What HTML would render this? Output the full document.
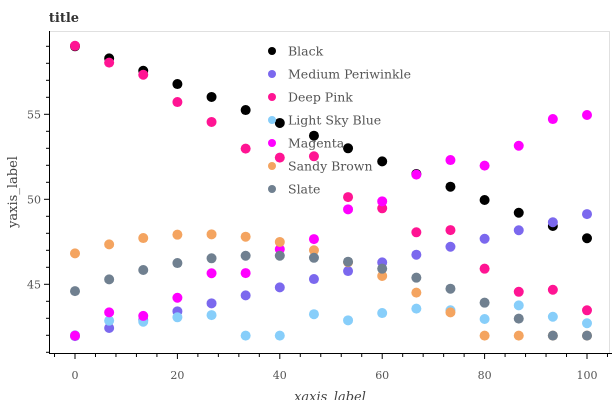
<!DOCTYPE html>
<html><head><meta charset="utf-8"><style>
body{margin:0;background:#fff;width:614px;height:400px;overflow:hidden}
svg text{font-family:"DejaVu Serif","Liberation Serif",serif}
</style></head><body>
<svg id="chart" width="614" height="400" xmlns="http://www.w3.org/2000/svg"></svg>
<script>
const xValues=[0,6.67,13.33,20,26.67,33.33,40,46.67,53.33,60,66.67,73.33,80,86.67,93.33,100];
const seriesNames=["Black","Medium Periwinkle","Deep Pink","Light Sky Blue","Magenta","Sandy Brown","Slate"];
const seriesColors=["#000000","#7B68EE","#FF1493","#87CEFA","#FF00FF","#F4A460","#708090"];
const blackVals=[59.0,58.29,57.56,56.78,56.02,55.25,54.49,53.74,53.0,52.23,51.49,50.74,49.96,49.21,48.43,47.71];
const periwinkleVals=[41.95,42.43,42.9,43.41,43.88,44.35,44.82,45.31,45.78,46.29,46.74,47.21,47.68,48.18,48.65,49.13];
const deepPinkVals=[59.03,58.04,57.33,55.72,54.55,52.98,52.45,52.53,50.13,49.47,48.06,48.19,45.92,44.56,44.68,43.47];
const skyBlueVals=[42.0,42.86,42.8,43.06,43.19,41.98,41.98,43.24,42.88,43.31,43.57,43.47,42.96,43.76,43.09,42.71];
const magentaVals=[41.98,43.35,43.14,44.21,45.65,45.66,47.06,47.66,49.41,49.88,51.45,52.31,51.98,53.15,54.72,54.96];
const sandyVals=[46.82,47.35,47.72,47.92,47.94,47.8,47.49,47.0,46.3,45.49,44.51,43.35,41.98,41.98,41.98,41.98];
const slateVals=[44.6,45.29,45.84,46.25,46.53,46.68,46.68,46.56,46.33,45.92,45.39,44.74,43.92,42.98,41.98,41.98];
const allSeries=[blackVals,periwinkleVals,deepPinkVals,skyBlueVals,magentaVals,sandyVals,slateVals];
const xTicks=[0,20,40,60,80,100];
const yTicks=[45,50,55];

const svg=document.getElementById('chart');
const NS='http://www.w3.org/2000/svg';
const X=v=>75+5.12*v;
const Y=v=>199.3-(v-50)*17;
function mk(tag,attrs,parent){const e=document.createElementNS(NS,tag);for(const k in attrs)e.setAttribute(k,attrs[k]);(parent||svg).appendChild(e);return e;}

let t=mk('text',{x:64,y:22,'font-size':13,'font-weight':'bold','text-anchor':'middle',fill:'#333'});t.textContent='title';



let fr=mk('path',{d:'M50 31.5H609.5V353.5',fill:'none',stroke:'#e0e0e0','stroke-width':1});



const xa=mk('g',{});


mk('line',{x1:49.5,x2:612,y1:353.5,y2:353.5,stroke:'#000'},xa);
for(let v=-4;v<=104;v+=4){mk('line',{x1:X(v),x2:X(v),y1:353.5,y2:v%20===0?359:357,stroke:'#000'},xa);}
xTicks.forEach(v=>{const l=mk('text',{x:X(v),y:379,'font-size':11,'text-anchor':'middle',fill:'#555'},xa);l.textContent=v;

});
let xl=mk('text',{x:330,y:401,'font-size':13,'font-style':'italic','text-anchor':'middle',fill:'#444'});xl.textContent='xaxis_label';



const ya=mk('g',{});


mk('line',{x1:49.5,x2:49.5,y1:31,y2:354,stroke:'#000'},ya);
for(let v=41;v<=59;v++){mk('line',{x1:v%5===0?44:46,x2:49.5,y1:Y(v),y2:Y(v),stroke:'#000'},ya);}
yTicks.forEach(v=>{const l=mk('text',{x:41,y:Y(v)+4,'font-size':11,'text-anchor':'end',fill:'#555'},ya);l.textContent=v;

});
let yl=mk('text',{x:0,y:0,'font-size':13,'text-anchor':'middle',fill:'#444',transform:'translate(17,192) rotate(-90)'});yl.textContent='yaxis_label';



allSeries.forEach((vals,si)=>{
  const g=mk('g',{});
  
  
  vals.forEach((v,i)=>{const c=mk('circle',{cx:X(xValues[i]),cy:Y(v),r:5,fill:seriesColors[si]},g);
    
    });
});

const lg=mk('g',{});


seriesNames.forEach((n,i)=>{
  const e=mk('g',{},lg);
  
  
  mk('circle',{cx:272,cy:51+i*23,r:4,fill:seriesColors[i]},e);
  const tx=mk('text',{x:288,y:55.5+i*23,'font-size':12.5,fill:'#555'},e);tx.textContent=n;
});
</script>
</body></html>
